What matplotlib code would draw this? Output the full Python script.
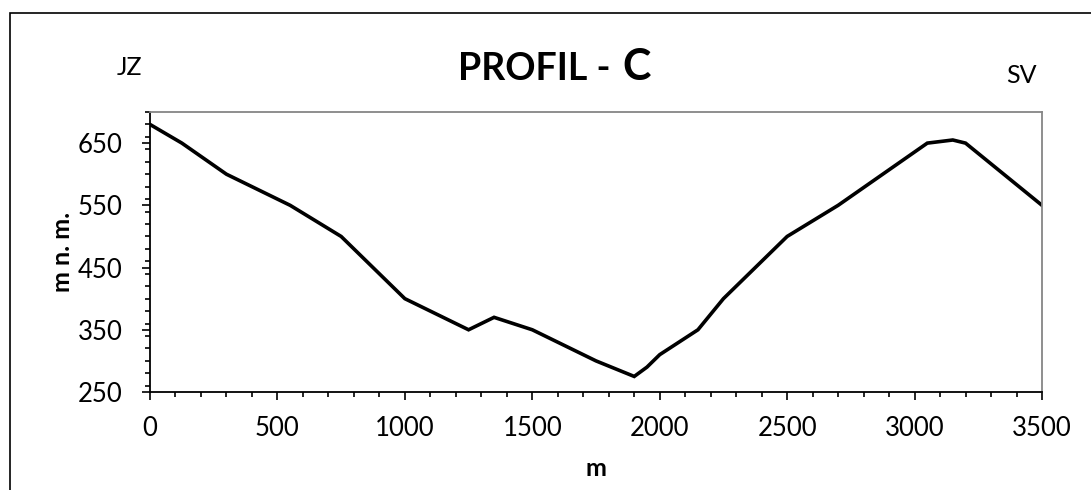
import matplotlib.pyplot as plt
from matplotlib.patches import Rectangle
from matplotlib.ticker import MultipleLocator

# profil terenu
udaljenost = [0, 125, 300, 550, 750, 1000, 1250, 1350, 1500, 1750, 1900, 1950,
              2000, 2150, 2250, 2500, 2700, 3050, 3150, 3200, 3500]
visina = [680, 650, 600, 550, 500, 400, 350, 370, 350, 300, 275, 290,
          310, 350, 400, 500, 550, 650, 655, 650, 550]

plt.rcParams['font.family'] = ['Lato', 'DejaVu Sans']

fig = plt.figure(figsize=(10.91, 4.90), dpi=100)
ax = fig.add_axes([150/1091, 1-392/490, 892/1091, 280/490])

ax.plot(udaljenost, visina, color='black', lw=2.6, solid_joinstyle='miter')

ax.set_xlim(0, 3500)
ax.set_ylim(250, 700)
ax.xaxis.set_major_locator(MultipleLocator(500))
ax.xaxis.set_minor_locator(MultipleLocator(100))
ax.set_yticks([250, 350, 450, 550, 650])
ax.yaxis.set_minor_locator(MultipleLocator(20))
ax.tick_params(which='major', length=5.5, width=1.2, labelsize=18.5)
ax.tick_params(which='minor', length=3.5, width=1.2)
ax.tick_params(axis='x', pad=12)
ax.tick_params(axis='y', pad=14)

for s in ['top', 'right']:
    ax.spines[s].set_color('#868686')
    ax.spines[s].set_linewidth(1.3)
for s in ['left', 'bottom']:
    ax.spines[s].set_linewidth(1.3)

# oznake osi
fig.text(63/1091, 1-252/490, 'm n. m.', fontsize=18, fontweight='bold',
         rotation=90, ha='center', va='center')
fig.text(596/1091, 1-468/490, 'm', fontsize=18, fontweight='bold',
         ha='center', va='center')

# naslov i strane svijeta
fig.text(620/1091, 1-80/490, 'PROFIL - ', fontsize=27, fontweight='bold',
         ha='right', va='baseline')
fig.text(622/1091, 1-80/490, 'C', fontsize=31, fontweight='bold',
         ha='left', va='baseline')
fig.text(117/1091, 1-75/490, 'JZ', fontsize=18, ha='left', va='baseline')
fig.text(1006/1091, 1-83/490, 'SV', fontsize=18, ha='left', va='baseline')

# okvir
fig.patches.append(Rectangle((10/1091, -0.1), 1.2, 1.1 - 13/490,
                             transform=fig.transFigure, fill=False,
                             edgecolor='black', lw=1.2))

fig.savefig('out.png', dpi=100)
